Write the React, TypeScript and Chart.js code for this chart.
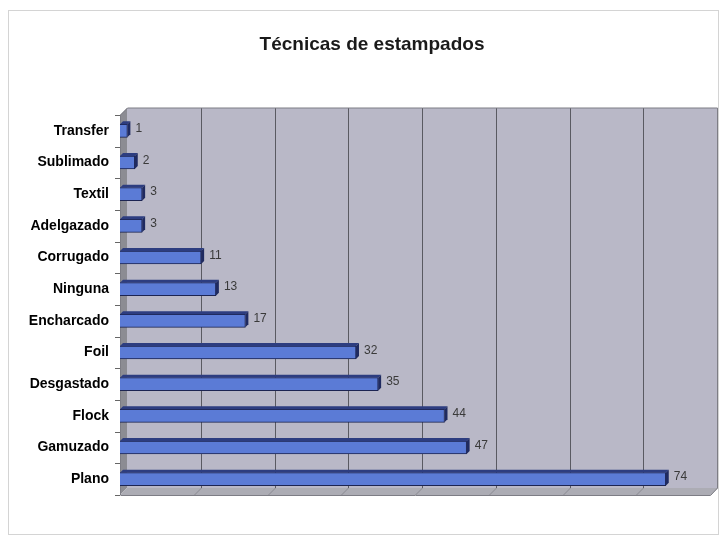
import React, { useEffect, useRef } from "react";
import { Chart, registerables } from "chart.js";

Chart.register(...registerables);

const categories = [
  "Transfer",
  "Sublimado",
  "Textil",
  "Adelgazado",
  "Corrugado",
  "Ninguna",
  "Encharcado",
  "Foil",
  "Desgastado",
  "Flock",
  "Gamuzado",
  "Plano",
];
const values = [1, 2, 3, 3, 11, 13, 17, 32, 35, 44, 47, 74];
const titleText = "Técnicas de estampados";
const xMax = 80;
const xStep = 10;

const DEPTH = 7;

const scenePlugin = {
  id: "scene3d",
  beforeDraw(chart: any) {
    const ctx = chart.ctx;
    const { left, right, top, bottom } = chart.chartArea;
    const xs = chart.scales.x;
    ctx.save();
    ctx.fillStyle = "#ffffff";
    ctx.fillRect(0, 0, chart.width, chart.height);
    ctx.strokeStyle = "#d4d4d4";
    ctx.lineWidth = 1;
    ctx.strokeRect(8.5, 10.5, chart.width - 10, chart.height - 12);
    // title
    ctx.fillStyle = "#1a1a1a";
    ctx.font = "bold 19px 'Liberation Sans', Arial, sans-serif";
    ctx.textAlign = "center";
    ctx.textBaseline = "middle";
    ctx.fillText(titleText, 372, 45);
    // back wall
    ctx.fillStyle = "#b9b8c7";
    ctx.fillRect(left + DEPTH, top - DEPTH, right - left, bottom - top);
    // left side wall
    ctx.fillStyle = "#8c8c93";
    ctx.beginPath();
    ctx.moveTo(left, top);
    ctx.lineTo(left + DEPTH, top - DEPTH);
    ctx.lineTo(left + DEPTH, bottom - DEPTH);
    ctx.lineTo(left, bottom);
    ctx.closePath();
    ctx.fill();
    // floor
    ctx.fillStyle = "#acacb4";
    ctx.beginPath();
    ctx.moveTo(left, bottom);
    ctx.lineTo(left + DEPTH, bottom - DEPTH);
    ctx.lineTo(right + DEPTH, bottom - DEPTH);
    ctx.lineTo(right, bottom);
    ctx.closePath();
    ctx.fill();
    // gridlines
    for (let v = xStep; v <= xMax; v += xStep) {
      const px = Math.round(xs.getPixelForValue(v)) + DEPTH + 0.5;
      ctx.strokeStyle = "#5a5a62";
      ctx.beginPath();
      ctx.moveTo(px, top - DEPTH);
      ctx.lineTo(px, bottom - DEPTH);
      ctx.stroke();
      ctx.strokeStyle = "#8a8a92";
      ctx.beginPath();
      ctx.moveTo(px, bottom - DEPTH);
      ctx.lineTo(px - DEPTH, bottom);
      ctx.stroke();
    }
    // outlines
    ctx.strokeStyle = "#7d7d85";
    ctx.beginPath();
    ctx.moveTo(left + 0.5, bottom);
    ctx.lineTo(left + 0.5, top);
    ctx.lineTo(left + DEPTH + 0.5, top - DEPTH);
    ctx.lineTo(right + DEPTH + 0.5, top - DEPTH);
    ctx.lineTo(right + DEPTH + 0.5, bottom - DEPTH);
    ctx.lineTo(right + 0.5, bottom + 0.5);
    ctx.lineTo(left + 0.5, bottom + 0.5);
    ctx.stroke();
    // category tick marks
    ctx.strokeStyle = "#666";
    for (let i = 0; i <= categories.length; i++) {
      const py = Math.round(top + ((bottom - top) * i) / categories.length) + 0.5;
      ctx.beginPath();
      ctx.moveTo(left - 5, py);
      ctx.lineTo(left, py);
      ctx.stroke();
    }
    ctx.restore();
  },
  afterDatasetsDraw(chart: any) {
    const ctx = chart.ctx;
    const meta = chart.getDatasetMeta(0);
    ctx.save();
    meta.data.forEach((bar: any, i: number) => {
      const { x, y, base, height } = bar.getProps(["x", "y", "base", "height"], true);
      const t = y - height / 2;
      const b = y + height / 2;
      const d = 3;
      ctx.fillStyle = "#2d3d80";
      ctx.beginPath();
      ctx.moveTo(base, t);
      ctx.lineTo(x, t);
      ctx.lineTo(x + d, t - d);
      ctx.lineTo(base + d, t - d);
      ctx.closePath();
      ctx.fill();
      ctx.fillStyle = "#1f2a60";
      ctx.beginPath();
      ctx.moveTo(x, t);
      ctx.lineTo(x + d, t - d);
      ctx.lineTo(x + d, b - d);
      ctx.lineTo(x, b);
      ctx.closePath();
      ctx.fill();
      ctx.fillStyle = "#3a3a3a";
      ctx.font = "12px 'Liberation Sans', Arial, sans-serif";
      ctx.textAlign = "left";
      ctx.textBaseline = "middle";
      ctx.fillText(String(values[i]), x + d + 5, y - 2);
    });
    ctx.restore();
  },
};

export default function App() {
  const ref = useRef<HTMLCanvasElement | null>(null);
  useEffect(() => {
    if (!ref.current) return;
    const chart = new Chart(ref.current, {
      type: "bar",
      data: {
        labels: categories,
        datasets: [
          {
            data: values,
            backgroundColor: "#5b7bd6",
            borderColor: "#1c2452",
            borderWidth: 1,
            barThickness: 13,
          },
        ],
      },
      options: {
        indexAxis: "y",
        animation: false,
        responsive: false,
        maintainAspectRatio: false,
        layout: { padding: { top: 115, bottom: 41, right: 10, left: 0 } },
        plugins: {
          legend: { display: false },
          title: { display: false },
          tooltip: { enabled: false },
        },
        scales: {
          x: {
            display: false,
            min: 0,
            max: xMax,
          },
          y: {
            grid: { display: false },
            border: { display: false },
            ticks: {
              color: "#000",
              padding: 3,
              font: { family: "'Liberation Sans', Arial, sans-serif", size: 14, weight: "bold" },
            },
            afterFit(scale: any) {
              scale.width = 120;
            },
          },
        },
      },
      plugins: [scenePlugin],
    });
    return () => chart.destroy();
  }, []);
  return (
    <div style={{ position: "fixed", left: 0, top: 0, width: 720, height: 536 }}>
      <canvas ref={ref} width={720} height={536} style={{ width: 720, height: 536 }} />
    </div>
  );
}
